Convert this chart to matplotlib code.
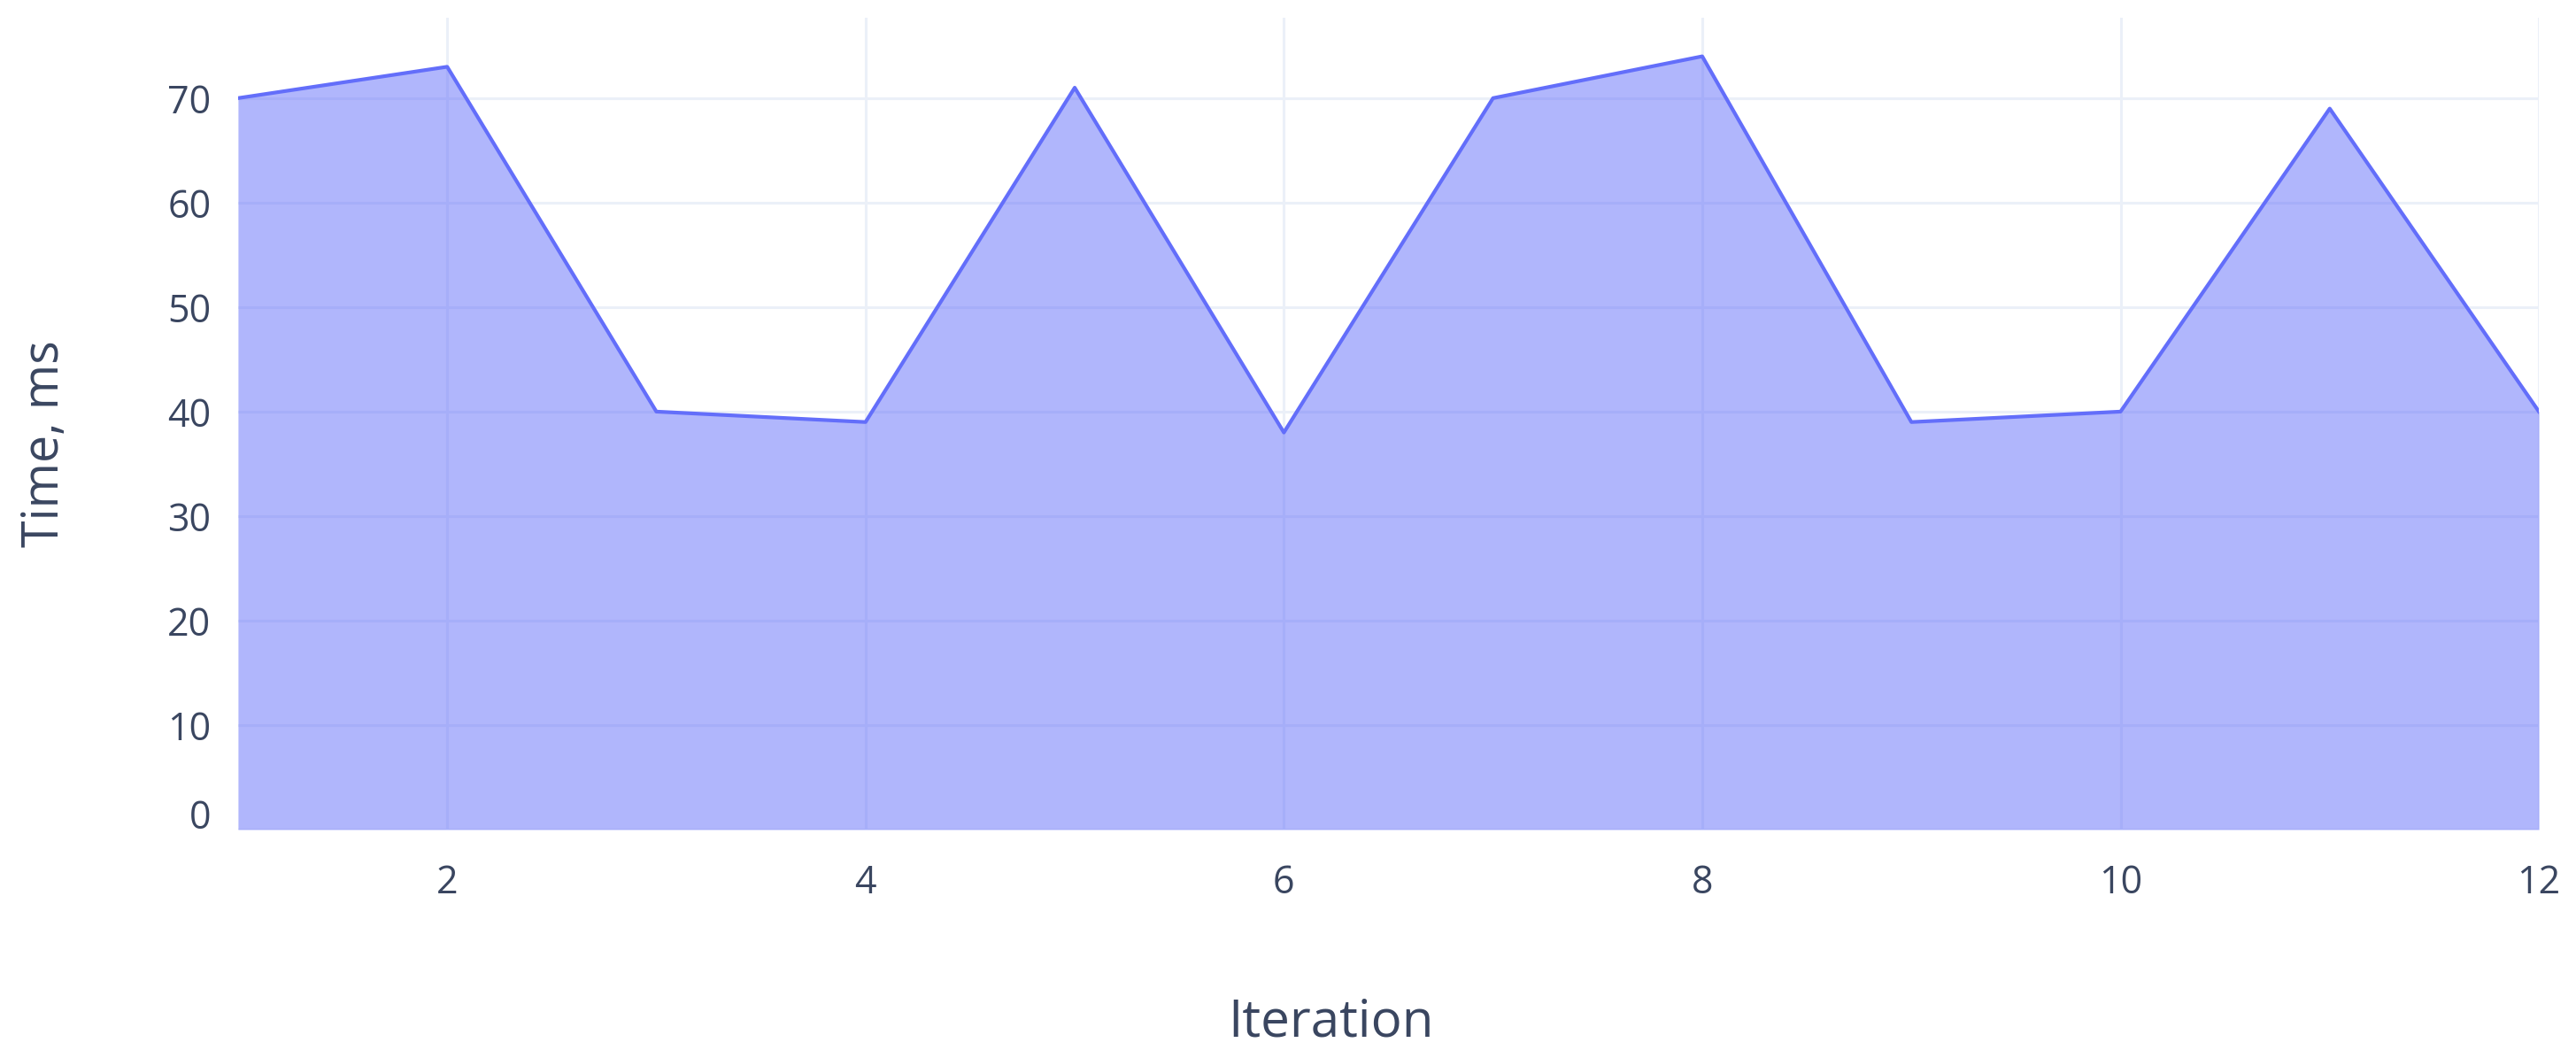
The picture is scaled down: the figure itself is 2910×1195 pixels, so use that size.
# Area chart: time per iteration
import matplotlib.pyplot as plt
from matplotlib.transforms import ScaledTranslation

plt.rcParams['font.family'] = ['Open Sans', 'DejaVu Sans']

# Data
iterations = [1, 2, 3, 4, 5, 6, 7, 8, 9, 10, 11, 12]
times_ms = [70, 73, 40, 39, 71, 38, 70, 74, 39, 40, 69, 40]
xticks = [2, 4, 6, 8, 10, 12]
yticks = [0, 10, 20, 30, 40, 50, 60, 70]

line_color = '#636efa'
grid_color = '#ebf0f8'
text_color = '#3a4660'

fig = plt.figure(figsize=(29.1, 11.95), dpi=100)
ax = fig.add_axes([0.0924, 0.2159, 0.8932, 0.7674])

ax.fill_between(iterations, times_ms, 0, color=line_color, alpha=0.5,
                linewidth=0, zorder=2)
ax.plot(iterations, times_ms, color=line_color, linewidth=3, zorder=3)

ax.set_xlim(1, 12)
ax.set_ylim(0, 77.7)
ax.set_xticks(xticks)
ax.set_yticks(yticks)
ax.grid(True, color=grid_color, linewidth=2.2, zorder=0)
ax.set_axisbelow(True)
for s in ax.spines.values():
    s.set_visible(False)

ax.tick_params(axis='both', length=0, labelsize=31, labelcolor=text_color)
ax.tick_params(axis='x', pad=28)
ax.tick_params(axis='y', pad=22)

# the "0" label sits a bit higher in the reference
lbl0 = ax.get_yticklabels()[0]
lbl0.set_transform(lbl0.get_transform() + ScaledTranslation(0, 18 / 100, fig.dpi_scale_trans))

ax.set_xlabel('Iteration', fontsize=42, color=text_color)
ax.set_ylabel('Time, ms', fontsize=40, color=text_color)
ax.xaxis.set_label_coords(0.475, -0.238)
ax.xaxis.label.set_va('center')
ax.yaxis.set_label_coords(-0.0835, 0.475)
ax.yaxis.label.set_va('center')

fig.savefig('out.png', dpi=100, facecolor='white')
